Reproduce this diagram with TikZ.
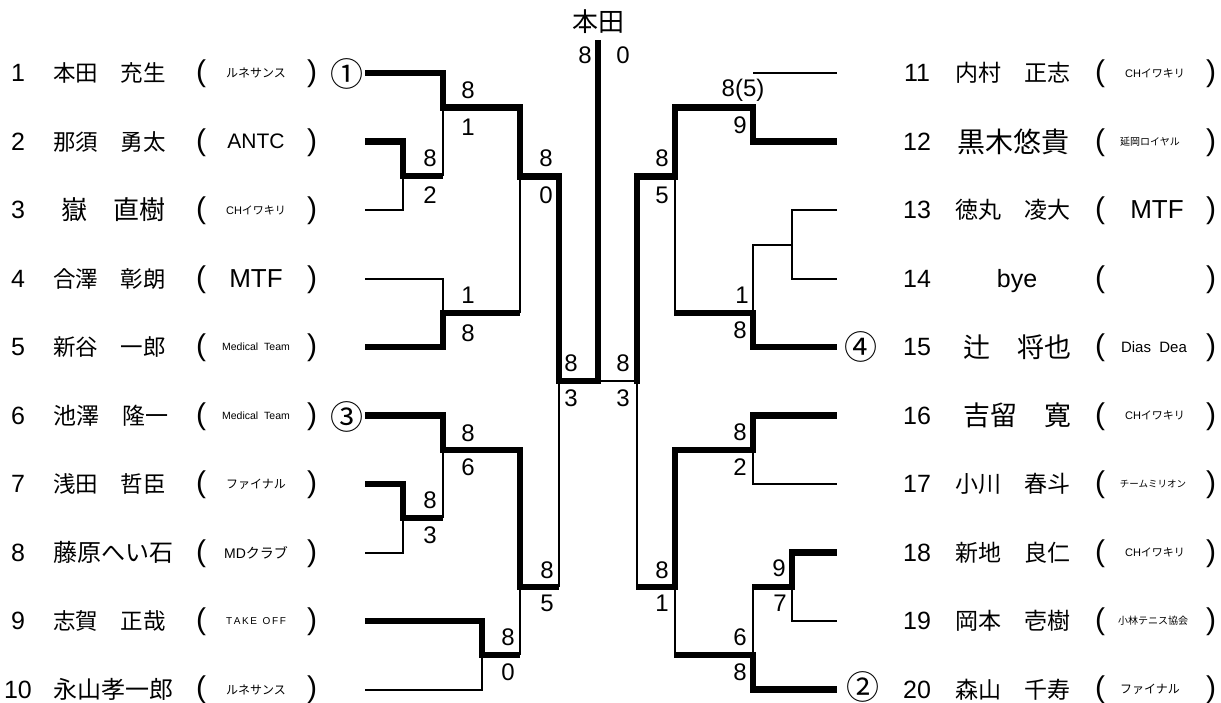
\documentclass[tikz,border=0pt]{standalone}
\usepackage{fontspec}
\setmainfont{Liberation Sans}
\newfontfamily\jp{Noto Sans CJK JP}
\newcommand{\fsz}[1]{\fontsize{#1}{#1}\selectfont}
\begin{document}
\begin{tikzpicture}[x=1pt,y=-1pt,
  win/.style={line width=6.5pt,line join=miter},
  lose/.style={line width=2pt},
  num/.style={inner sep=0pt,font=\fsz{25}},
  nm/.style={inner sep=0pt,anchor=west},
  par/.style={inner sep=0pt,font=\fsz{30}},
  club/.style={inner sep=0pt},
  sc/.style={inner sep=0pt,font=\fsz{24}},
  seed/.style={inner sep=0pt,font=\jp\fsz{33}}]
\fill[white] (0,0) rectangle (1221,702);
\useasboundingbox (0,0) rectangle (1221,702);

% ---------- left entries ----------
\node[num] (n1) at (18,73) {1};
\node[nm,font=\jp\fsz{22.5}] (m1) at (53,73) {本田　充生};
\node[par] (a1) at (201,74) {(};
\node[club,font=\jp\fsz{12}] (c1) at (256,73) {ルネサンス};
\node[par] (b1) at (312,74) {)};
\node[seed] (s1) at (347,74) {①};

\node[num] (n2) at (18,141.5) {2};
\node[nm,font=\jp\fsz{22.5}] (m2) at (53,141.5) {那須　勇太};
\node[par] (a2) at (201,142.5) {(};
\node[club,font=\fsz{21}] (c2) at (256,141.5) {ANTC};
\node[par] (b2) at (312,142.5) {)};

\node[num] (n3) at (18,210) {3};
\node[nm,font=\jp\fsz{26}] (m3) at (61,210) {嶽　直樹};
\node[par] (a3) at (201,211) {(};
\node[club,font=\fsz{11}] (c3) at (256,210) {CH{\jp イワキリ}};
\node[par] (b3) at (312,211) {)};

\node[num] (n4) at (18,278.5) {4};
\node[nm,font=\jp\fsz{22.5}] (m4) at (53,278.5) {合澤　彰朗};
\node[par] (a4) at (201,279.5) {(};
\node[club,font=\fsz{26}] (c4) at (256,278.5) {MTF};
\node[par] (b4) at (312,279.5) {)};

\node[num] (n5) at (18,347) {5};
\node[nm,font=\jp\fsz{22.5}] (m5) at (53,347) {新谷　一郎};
\node[par] (a5) at (201,348) {(};
\node[club,font=\fsz{10.5}] (c5) at (256,347) {Medical\ \ Team};
\node[par] (b5) at (312,348) {)};

\node[num] (n6) at (18,415.5) {6};
\node[nm,font=\jp\fsz{23}] (m6) at (53,415.5) {池澤　隆一};
\node[par] (a6) at (201,416.5) {(};
\node[club,font=\fsz{10.5}] (c6) at (256,415.5) {Medical\ \ Team};
\node[par] (b6) at (312,416.5) {)};
\node[seed] (s3) at (347,416.5) {③};

\node[num] (n7) at (18,484) {7};
\node[nm,font=\jp\fsz{22.5}] (m7) at (53,484) {浅田　哲臣};
\node[par] (a7) at (201,485) {(};
\node[club,font=\jp\fsz{12}] (c7) at (256,484) {ファイナル};
\node[par] (b7) at (312,485) {)};

\node[num] (n8) at (18,552.5) {8};
\node[nm,font=\jp\fsz{24}] (m8) at (53,552.5) {藤原へい石};
\node[par] (a8) at (201,553.5) {(};
\node[club,font=\fsz{14}] (c8) at (256,552.5) {MD{\jp クラブ}};
\node[par] (b8) at (312,553.5) {)};

\node[num] (n9) at (18,621) {9};
\node[nm,font=\jp\fsz{22.5}] (m9) at (53,621) {志賀　正哉};
\node[par] (a9) at (201,622) {(};
\node[club,font=\fsz{10}] (c9) at (256,621) {T\,A\,K\,E\ \ O\,F\,F};
\node[par] (b9) at (312,622) {)};

\node[num] (n10) at (18,689.5) {10};
\node[nm,font=\jp\fsz{24}] (m10) at (53,689.5) {永山孝一郎};
\node[par] (a10) at (201,689.5) {(};
\node[club,font=\jp\fsz{12}] (c10) at (256,689.5) {ルネサンス};
\node[par] (b10) at (312,689.5) {)};

% ---------- right entries ----------
\node[num] (n11) at (917,73) {11};
\node[nm,font=\jp\fsz{23}] (m11) at (955,73) {内村　正志};
\node[par] (a11) at (1100,74) {(};
\node[club,font=\fsz{11}] (c11) at (1155,73) {CH{\jp イワキリ}};
\node[par] (b11) at (1211,74) {)};

\node[num] (n12) at (917,141.5) {12};
\node[nm,font=\jp\fsz{28}] (m12) at (957,141.5) {黒木悠貴};
\node[par] (a12) at (1100,142.5) {(};
\node[club,font=\jp\fsz{10}] (c12) at (1150,141.5) {延岡ロイヤル};
\node[par] (b12) at (1211,142.5) {)};

\node[num] (n13) at (917,210) {13};
\node[nm,font=\jp\fsz{23}] (m13) at (955,210) {徳丸　凌大};
\node[par] (a13) at (1100,211) {(};
\node[club,font=\fsz{26}] (c13) at (1157,210) {MTF};
\node[par] (b13) at (1211,211) {)};

\node[num] (n14) at (917,278.5) {14};
\node[num] (m14) at (1017,281) {bye};
\node[par] (a14) at (1100,279.5) {(};
\node[par] (b14) at (1211,279.5) {)};

\node[num] (n15) at (917,347) {15};
\node[nm,font=\jp\fsz{27}] (m15) at (963,347) {辻　将也};
\node[par] (a15) at (1100,348) {(};
\node[club,font=\fsz{15}] (c15) at (1154,347) {Dias\ \ Dea};
\node[par] (b15) at (1211,348) {)};
\node[seed] (s4) at (861,347) {④};

\node[num] (n16) at (917,415.5) {16};
\node[nm,font=\jp\fsz{27}] (m16) at (963,415.5) {吉留　寛};
\node[par] (a16) at (1100,416.5) {(};
\node[club,font=\fsz{11}] (c16) at (1155,415.5) {CH{\jp イワキリ}};
\node[par] (b16) at (1211,416.5) {)};

\node[num] (n17) at (917,484) {17};
\node[nm,font=\jp\fsz{23}] (m17) at (955,484) {小川　春斗};
\node[par] (a17) at (1100,485) {(};
\node[club,font=\jp\fsz{9.5}] (c17) at (1153,484) {チームミリオン};
\node[par] (b17) at (1211,485) {)};

\node[num] (n18) at (917,552.5) {18};
\node[nm,font=\jp\fsz{23}] (m18) at (955,552.5) {新地　良仁};
\node[par] (a18) at (1100,553.5) {(};
\node[club,font=\fsz{11}] (c18) at (1155,552.5) {CH{\jp イワキリ}};
\node[par] (b18) at (1211,553.5) {)};

\node[num] (n19) at (917,621) {19};
\node[nm,font=\jp\fsz{23}] (m19) at (955,621) {岡本　壱樹};
\node[par] (a19) at (1100,622) {(};
\node[club,font=\jp\fsz{10}] (c19) at (1153,621) {小林テニス協会};
\node[par] (b19) at (1211,622) {)};

\node[num] (n20) at (917,689.5) {20};
\node[nm,font=\jp\fsz{23}] (m20) at (955,689.5) {森山　千寿};
\node[par] (a20) at (1100,689.5) {(};
\node[club,font=\jp\fsz{12}] (c20) at (1150,689.5) {ファイナル};
\node[par] (b20) at (1211,689.5) {)};
\node[seed] (s2) at (863,686.5) {②};

% ---------- line ends ----------
\coordinate (L1) at (365,73);
\coordinate (L2) at (365,141.5);
\coordinate (L3) at (365,210);
\coordinate (L4) at (365,278.5);
\coordinate (L5) at (365,347);
\coordinate (L6) at (365,415.5);
\coordinate (L7) at (365,484);
\coordinate (L8) at (365,552.5);
\coordinate (L9) at (365,621);
\coordinate (L10) at (365,689.5);
\coordinate (R11) at (837,73);
\coordinate (R12) at (837,141.5);
\coordinate (R13) at (837,210);
\coordinate (R14) at (837,278.5);
\coordinate (R15) at (837,347);
\coordinate (R16) at (837,415.5);
\coordinate (R17) at (837,484);
\coordinate (R18) at (837,552.5);
\coordinate (R19) at (837,621);
\coordinate (R20) at (837,689.5);
\coordinate (J11) at (753,73);

% ---------- left bracket ----------
\draw[win] (L1) -- (443,73) -- (443,107.5) -- (520,107.5) -- (520,176.5) -- (559,176.5) -- (559,381) -- (598,381) -- (598,40);
\draw[win] (L2) -- (403,141.5) -- (403,176) -- (443,176);
\draw[lose] (L3) -- (403,210) -- (403,176);
\draw[lose] (443,107.5) -- (443,176);
\draw[lose] (L4) -- (443,278.5) -- (443,313);
\draw[win] (L5) -- (443,347) -- (443,313) -- (520,313);
\draw[lose] (520,313) -- (520,176.5);
\draw[win] (L6) -- (443,415.5) -- (443,450) -- (520,450) -- (520,587) -- (559,587);
\draw[lose] (559,587) -- (559,381);
\draw[win] (L7) -- (403,484) -- (403,518) -- (443,518);
\draw[lose] (L8) -- (403,552.5) -- (403,518);
\draw[lose] (443,518) -- (443,450);
\draw[win] (L9) -- (482,621) -- (482,655) -- (520,655);
\draw[lose] (L10) -- (482,689.5) -- (482,655);
\draw[lose] (520,655) -- (520,587);

% ---------- right bracket ----------
\draw[lose] (598,381) -- (637,381);
\draw[win] (637,384) -- (637,176.5) -- (675,176.5) -- (675,107.5) -- (753,107.5) -- (753,141.5) -- (R12);
\draw[lose] (J11) -- (R11);
\draw[lose] (675,176.5) -- (675,313);
\draw[win] (674,313) -- (753,313) -- (753,347) -- (R15);
\draw[lose] (753,313) -- (753,244.5) -- (792,244.5);
\draw[lose] (R13) -- (792,210) -- (792,278.5) -- (R14);
\draw[lose] (637,381) -- (637,587);
\draw[win] (636,587) -- (675,587) -- (675,450) -- (753,450) -- (753,415.5) -- (R16);
\draw[lose] (753,450) -- (753,484) -- (R17);
\draw[lose] (675,587) -- (675,655);
\draw[win] (674,655) -- (753,655) -- (753,689.5) -- (R20);
\draw[lose] (753,655) -- (753,587);
\draw[win] (752,587) -- (792,587) -- (792,552.5) -- (R18);
\draw[lose] (792,587) -- (792,621) -- (R19);

% ---------- scores ----------
\node[inner sep=0pt,font=\jp\fsz{26}] (champ) at (598,22) {本田};
\node[sc] (f1) at (585,55) {8};
\node[sc] (f2) at (623,55) {0};

\node[sc] at (430,158) {8};  \node[sc] at (430,195) {2};
\node[sc] at (468,90) {8};   \node[sc] at (468,127) {1};
\node[sc] at (468,295) {1};  \node[sc] at (468,333) {8};
\node[sc] at (546,158) {8};  \node[sc] at (546,195) {0};
\node[sc] at (571,363) {8};  \node[sc] at (571,398) {3};
\node[sc] at (468,433) {8};  \node[sc] at (468,467) {6};
\node[sc] at (430,500) {8};  \node[sc] at (430,535) {3};
\node[sc] at (547,570) {8};  \node[sc] at (547,603) {5};
\node[sc] at (508,637) {8};  \node[sc] at (508,672) {0};

\node[sc] at (623,363) {8};  \node[sc] at (623,398) {3};
\node[sc] at (662,158) {8};  \node[sc] at (662,195) {5};
\node[sc] at (743,90) {8(5)}; \node[sc] at (740,125) {9};
\node[sc] at (742,295) {1};  \node[sc] at (740,330) {8};
\node[sc] at (740,432) {8};  \node[sc] at (740,467) {2};
\node[sc] at (662,570) {8};  \node[sc] at (662,603) {1};
\node[sc] at (779,568) {9};  \node[sc] at (780,603) {7};
\node[sc] at (740,637) {6};  \node[sc] at (740,672) {8};
\end{tikzpicture}
\end{document}
